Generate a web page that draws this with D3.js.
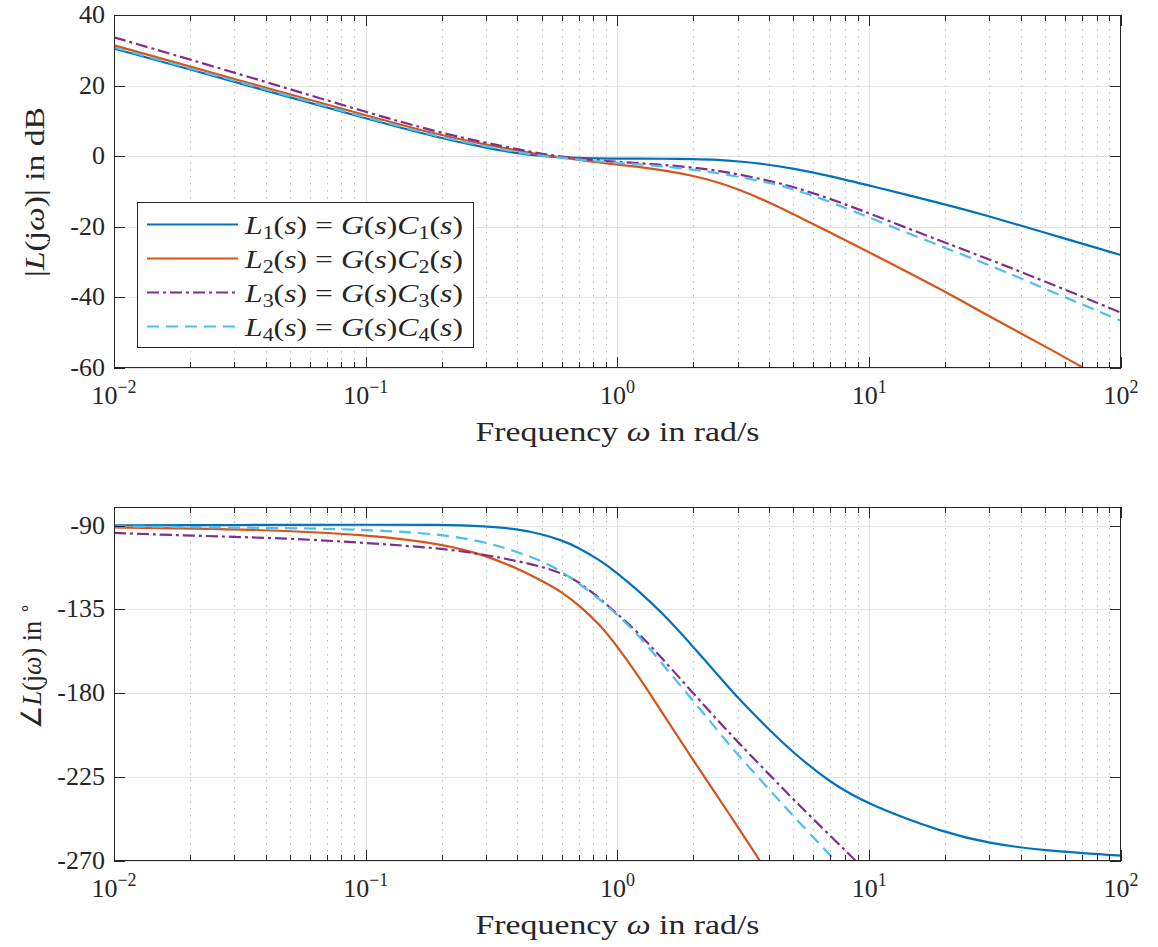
<!DOCTYPE html>
<html>
<head>
<meta charset="utf-8">
<style>
  body { margin: 0; background: #fff; }
  text { font-family: "Liberation Serif", "Times New Roman", Times, serif; fill: #262626; }
  .grid-major line { stroke: #e2e2e2; stroke-width: 1; }
  .grid-minor line { stroke: #b8b8b8; stroke-width: 1; stroke-dasharray: 1.5,5.5; }
  .frame { fill: none; stroke: #262626; stroke-width: 1; }
  .tick { stroke: #262626; stroke-width: 1; }
  .curve { fill: none; stroke-width: 2.2; }
</style>
</head>
<body>
<svg width="1158" height="947"></svg>
<script src="https://d3js.org/d3.v7.min.js"></script>
<script>

var freq = [0.01, 0.02, 0.05, 0.1, 0.2, 0.3, 0.4, 0.5, 0.6, 0.7, 0.85, 1, 1.2, 1.5, 2, 2.5, 3, 4, 5, 7, 10, 20, 30, 50, 100];

// magnitude in dB
var magL1 = [30.5, 24.6, 16.7, 10.7, 5.0, 2.4, 0.8, 0.0, -0.3, -0.5, -0.65, -0.7, -0.7, -0.7, -0.8, -1.0, -1.4, -2.4, -3.5, -5.6, -8.3, -13.6, -17.0, -21.7, -28.0];
var magL2 = [31.4, 25.4, 17.5, 11.6, 5.8, 3.3, 1.6, 0.4, -0.4, -1.0, -1.8, -2.4, -3.0, -3.9, -5.5, -7.4, -9.3, -13.0, -16.4, -21.6, -27.2, -38.3, -45.4, -53.8, -66.0];
var magL3 = [33.7, 27.4, 19.0, 12.5, 6.5, 3.8, 2.0, 0.6, -0.1, -0.7, -1.2, -1.6, -1.95, -2.4, -3.2, -4.1, -5.1, -6.9, -8.7, -12.0, -16.2, -24.5, -29.2, -35.5, -44.3];
var magL4 = [30.8, 24.9, 17.0, 11.0, 5.3, 2.8, 1.1, 0.1, -0.4, -1.0, -1.5, -1.9, -2.3, -2.8, -3.8, -4.8, -5.8, -7.5, -9.3, -12.9, -17.4, -26.0, -30.8, -37.6, -46.6];

// phase in degrees (null = far outside the axes)
var phL1 = [-89.8, -89.7, -89.6, -89.5, -89.5, -90.3, -91.8, -94.5, -97.8, -101.8, -108.5, -115.5, -124.5, -136.5, -155, -170, -182.5, -199.5, -212, -228, -240, -255, -260.5, -264.6, -267.1];
var phL2 = [-91, -91.5, -92.7, -95, -99.6, -106, -113, -119.5, -125.5, -132.5, -143, -155, -170, -190, -216, -235.5, -251.5, -277.5, null, null, null, null, null, null, null];
var phL3 = [-93.9, -95.4, -96.8, -99.3, -102.1, -105.7, -109, -112, -115.5, -120, -129, -137.5, -147, -161, -180, -194.5, -206, -223.5, -237, -256.5, -277, null, null, null, null];
var phL4 = [-90.4, -90.8, -91.3, -92.1, -94.5, -98.9, -104, -109, -114.5, -121, -129.5, -138, -148, -164, -184, -200, -213, -231.5, -246, -267, -289, null, null, null, null];

var seriesIdx = ["1", "2", "3", "4"];
var colors = ["#0072BD", "#D95319", "#7E2F8E", "#4DBEEE"];
var dashes = [null, null, "12,4,3,4", "12,7"];

var magTicks = [40, 20, 0, -20, -40, -60];
var phTicks = [-90, -135, -180, -225, -270];
var decades = [-2, -1, 0, 1, 2];

var svg = d3.select("svg");

var left = 114, right = 1121;
var x = d3.scaleLog().domain([0.01, 100]).range([left, right]);

var yMag = d3.scaleLinear().domain([-60, 40]).range([368, 15]);
var yPh = d3.scaleLinear().domain([-270, -80]).range([861, 507]);

var minorX = [];
for (var e = -2; e < 2; e++) {
  for (var k = 2; k <= 9; k++) minorX.push(k * Math.pow(10, e));
}

function px(v) { return Math.round(v) + 0.5; }

function drawPanel(y, yTicks, data, clipId) {
  var top = y.range()[1], bottom = y.range()[0];
  var g = svg.append("g");

  // grids
  g.append("g").attr("class", "grid-minor").selectAll("line")
    .data(minorX).enter().append("line")
    .attr("x1", function(d) { return px(x(d)); }).attr("x2", function(d) { return px(x(d)); })
    .attr("y1", top).attr("y2", bottom);
  var gm = g.append("g").attr("class", "grid-major");
  gm.selectAll("line.v").data(decades.slice(1, -1)).enter().append("line")
    .attr("x1", function(d) { return px(x(Math.pow(10, d))); })
    .attr("x2", function(d) { return px(x(Math.pow(10, d))); })
    .attr("y1", top).attr("y2", bottom);
  gm.selectAll("line.h").data(yTicks).enter().append("line")
    .attr("x1", left).attr("x2", right)
    .attr("y1", function(d) { return px(y(d)); }).attr("y2", function(d) { return px(y(d)); });

  // curves
  svg.append("clipPath").attr("id", clipId).append("rect")
    .attr("x", left).attr("y", top).attr("width", right - left).attr("height", bottom - top);
  var line = d3.line()
    .defined(function(d) { return d[1] != null; })
    .x(function(d) { return x(d[0]); })
    .y(function(d) { return y(d[1]); })
    .curve(d3.curveBasis);
  data.forEach(function(vals, i) {
    var pts = freq.map(function(f, j) { return [f, vals[j]]; });
    g.append("path").attr("class", "curve")
      .attr("clip-path", "url(#" + clipId + ")")
      .attr("stroke", colors[i])
      .attr("stroke-dasharray", dashes[i])
      .attr("d", line(pts));
  });

  // frame and ticks on all four sides
  g.append("rect").attr("class", "frame")
    .attr("x", left + 0.5).attr("y", top + 0.5)
    .attr("width", right - left - 1).attr("height", bottom - top - 1);
  var t = g.append("g");
  decades.forEach(function(d) {
    var xx = px(x(Math.pow(10, d)));
    t.append("line").attr("class", "tick").attr("x1", xx).attr("x2", xx).attr("y1", bottom).attr("y2", bottom - 11);
    t.append("line").attr("class", "tick").attr("x1", xx).attr("x2", xx).attr("y1", top).attr("y2", top + 11);
  });
  minorX.forEach(function(d) {
    var xx = px(x(d));
    t.append("line").attr("class", "tick").attr("x1", xx).attr("x2", xx).attr("y1", bottom).attr("y2", bottom - 6);
    t.append("line").attr("class", "tick").attr("x1", xx).attr("x2", xx).attr("y1", top).attr("y2", top + 6);
  });
  yTicks.forEach(function(d) {
    var yy = px(y(d));
    t.append("line").attr("class", "tick").attr("x1", left).attr("x2", left + 11).attr("y1", yy).attr("y2", yy);
    t.append("line").attr("class", "tick").attr("x1", right).attr("x2", right - 11).attr("y1", yy).attr("y2", yy);
  });

  // tick labels
  yTicks.forEach(function(d) {
    g.append("text").attr("x", left - 9).attr("y", y(d) + 8)
      .attr("text-anchor", "end").style("font-size", "26px")
      .text(String(d));
  });
  decades.forEach(function(d) {
    var tx = g.append("text").attr("x", x(Math.pow(10, d))).attr("y", bottom + 36)
      .attr("text-anchor", "middle").style("font-size", "26px");
    tx.append("tspan").text("10");
    tx.append("tspan").attr("dy", -11).style("font-size", "18px")
      .text(d < 0 ? "\u2212" + (-d) : String(d));
  });

  // x label
  var xl = g.append("text").attr("x", (left + right) / 2).attr("y", bottom + 73)
    .attr("text-anchor", "middle").style("font-size", "28px")
    .attr("textLength", 284).attr("lengthAdjust", "spacingAndGlyphs");
  xl.append("tspan").text("Frequency ");
  xl.append("tspan").style("font-style", "italic").text("\u03c9");
  xl.append("tspan").text(" in rad/s");
  return g;
}

drawPanel(yMag, magTicks, [magL1, magL2, magL3, magL4], "clipMag");
drawPanel(yPh, phTicks, [phL1, phL2, phL3, phL4], "clipPh");

// y labels
var yl1 = svg.append("text").attr("transform", "translate(44,192) rotate(-90)")
  .attr("text-anchor", "middle").style("font-size", "28px")
  .attr("textLength", 170).attr("lengthAdjust", "spacingAndGlyphs");
yl1.append("tspan").text("|");
yl1.append("tspan").style("font-style", "italic").text("L");
yl1.append("tspan").text("(j");
yl1.append("tspan").style("font-style", "italic").text("\u03c9");
yl1.append("tspan").text(")| in dB");

var yl2 = svg.append("text").attr("transform", "translate(41,666) rotate(-90)")
  .attr("text-anchor", "middle").style("font-size", "28px")
  .attr("textLength", 126).attr("lengthAdjust", "spacingAndGlyphs");
yl2.append("tspan").text("\u2220");
yl2.append("tspan").style("font-style", "italic").text("L");
yl2.append("tspan").text("(j");
yl2.append("tspan").style("font-style", "italic").text("\u03c9");
yl2.append("tspan").text(") in ");
yl2.append("tspan").attr("dy", -10).style("font-size", "19px").text("\u2218");

// legend
var lg = svg.append("g");
lg.append("rect").attr("x", 137.5).attr("y", 202.5).attr("width", 336).attr("height", 145)
  .attr("fill", "#fff").attr("stroke", "#262626").attr("stroke-width", 1);
var rowY = [224.5, 258.5, 292.5, 326.5];
seriesIdx.forEach(function(n, i) {
  lg.append("line").attr("x1", 147).attr("x2", 238).attr("y1", rowY[i]).attr("y2", rowY[i])
    .attr("stroke", colors[i]).attr("stroke-width", 2.2).attr("stroke-dasharray", dashes[i]);
  var t = lg.append("text").attr("x", 245).attr("y", rowY[i] + 9).style("font-size", "26px")
    .attr("textLength", 218).attr("lengthAdjust", "spacingAndGlyphs");
  t.append("tspan").style("font-style", "italic").text("L");
  t.append("tspan").attr("dy", 5).style("font-size", "18px").text(n);
  t.append("tspan").attr("dy", -5).text("(");
  t.append("tspan").style("font-style", "italic").text("s");
  t.append("tspan").text(") = ");
  t.append("tspan").style("font-style", "italic").text("G");
  t.append("tspan").text("(");
  t.append("tspan").style("font-style", "italic").text("s");
  t.append("tspan").text(")");
  t.append("tspan").style("font-style", "italic").text("C");
  t.append("tspan").attr("dy", 5).style("font-size", "18px").text(n);
  t.append("tspan").attr("dy", -5).text("(");
  t.append("tspan").style("font-style", "italic").text("s");
  t.append("tspan").text(")");
});

</script>
</body>
</html>
